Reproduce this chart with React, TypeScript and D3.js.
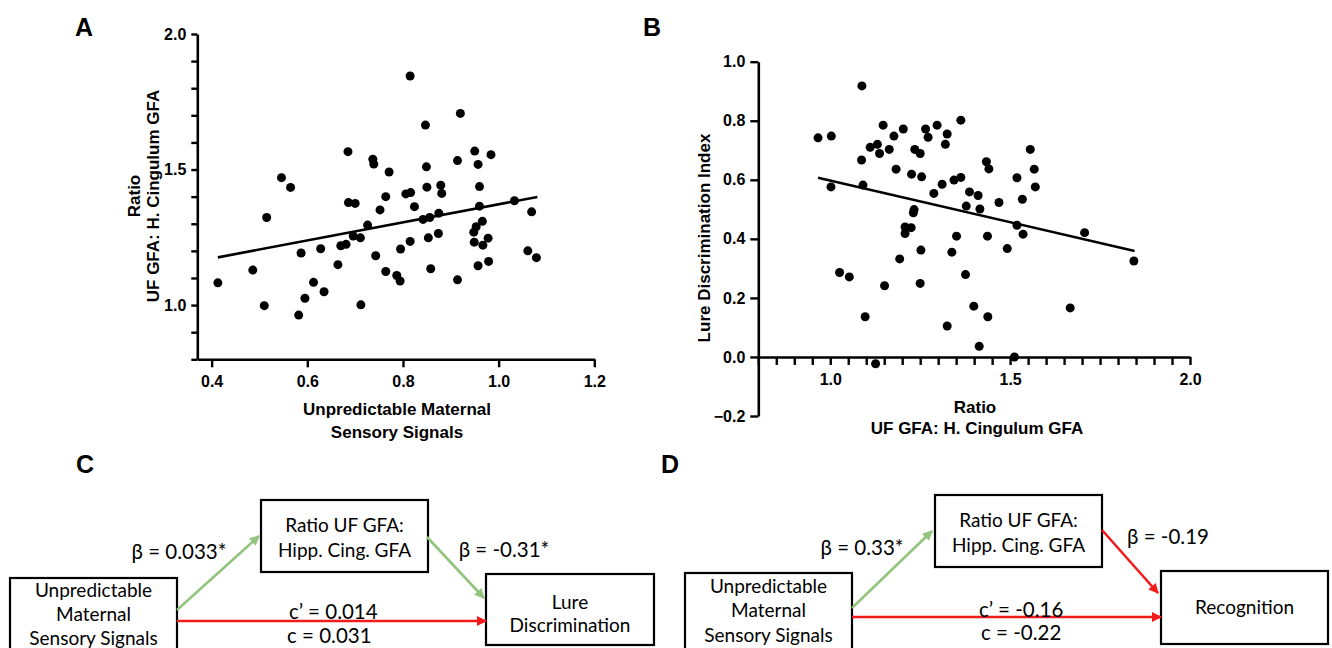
import React, { useEffect, useRef } from 'react';
import * as d3 from 'd3';

// Panel A: unpredictable maternal sensory signals (x) vs ratio UF GFA : H. cingulum GFA (y)
const panelAPoints: [number, number][] = [
  [0.413, 1.082], [0.486, 1.129], [0.51, 0.998], [0.515, 1.323], [0.546, 1.47],
  [0.565, 1.434], [0.582, 0.963], [0.587, 1.192], [0.595, 1.025], [0.613, 1.084],
  [0.628, 1.208], [0.635, 1.049], [0.664, 1.149], [0.67, 1.219], [0.681, 1.224],
  [0.685, 1.566], [0.686, 1.378], [0.7, 1.375], [0.696, 1.255], [0.711, 1.248],
  [0.712, 1.001], [0.726, 1.295], [0.737, 1.538], [0.739, 1.52], [0.743, 1.182],
  [0.752, 1.351], [0.764, 1.4], [0.764, 1.124], [0.771, 1.491], [0.787, 1.109],
  [0.794, 1.089], [0.795, 1.207], [0.806, 1.41], [0.816, 1.415], [0.815, 1.845],
  [0.815, 1.235], [0.824, 1.363], [0.842, 1.316], [0.847, 1.664], [0.849, 1.51],
  [0.85, 1.435], [0.853, 1.248], [0.856, 1.323], [0.858, 1.134], [0.875, 1.339],
  [0.874, 1.264], [0.879, 1.442], [0.881, 1.412], [0.914, 1.093], [0.914, 1.533],
  [0.92, 1.707], [0.95, 1.568], [0.957, 1.519], [0.96, 1.437], [0.96, 1.365],
  [0.966, 1.309], [0.953, 1.289], [0.948, 1.269], [0.949, 1.232], [0.957, 1.145],
  [0.967, 1.221], [0.978, 1.247], [0.979, 1.161], [0.984, 1.555], [1.033, 1.385],
  [1.061, 1.2], [1.069, 1.344], [1.079, 1.175],
];
const panelAFit: [number, number][] = [[0.413, 1.176], [1.081, 1.399]];
const panelAXTicks = [0.4, 0.6, 0.8, 1.0, 1.2];
const panelAYLabels = [1.0, 1.5, 2.0];

// Panel B: ratio (x) vs lure discrimination index (y)
const panelBPoints: [number, number][] = [
  [0.966, 0.742], [1.003, 0.748], [1.002, 0.576], [1.026, 0.286], [1.053, 0.271],
  [1.088, 0.918], [1.087, 0.667], [1.091, 0.582], [1.097, 0.136], [1.111, 0.71],
  [1.126, -0.023], [1.131, 0.72], [1.137, 0.689], [1.147, 0.785], [1.151, 0.241],
  [1.164, 0.703], [1.177, 0.748], [1.183, 0.636], [1.193, 0.332], [1.203, 0.772],
  [1.208, 0.418], [1.208, 0.44], [1.226, 0.619], [1.225, 0.438], [1.231, 0.488],
  [1.233, 0.499], [1.235, 0.703], [1.25, 0.689], [1.252, 0.362], [1.25, 0.249],
  [1.254, 0.61], [1.265, 0.772], [1.272, 0.744], [1.288, 0.554], [1.297, 0.785],
  [1.311, 0.585], [1.32, 0.72], [1.325, 0.755], [1.325, 0.105], [1.338, 0.355],
  [1.344, 0.599], [1.351, 0.409], [1.363, 0.802], [1.363, 0.608], [1.376, 0.279],
  [1.378, 0.511], [1.387, 0.559], [1.399, 0.172], [1.411, 0.547], [1.416, 0.501],
  [1.414, 0.036], [1.434, 0.661], [1.441, 0.637], [1.437, 0.409], [1.438, 0.136],
  [1.469, 0.523], [1.492, 0.367], [1.512, 0.0], [1.519, 0.607], [1.519, 0.446],
  [1.534, 0.534], [1.536, 0.416], [1.556, 0.703], [1.567, 0.636], [1.57, 0.576],
  [1.667, 0.166], [1.707, 0.421], [1.844, 0.325],
];
const panelBFit: [number, number][] = [[0.966, 0.607], [1.846, 0.359]];
const panelBXLabels = [1.0, 1.5, 2.0];
const panelBYTicks = [-0.2, 0, 0.2, 0.4, 0.6, 0.8, 1.0];

// Mediation diagrams (C and D)
const predictorLines = ['Unpredictable', 'Maternal', 'Sensory Signals'];
const mediatorLines = ['Ratio UF GFA:', 'Hipp. Cing. GFA'];
const outcomeCLines = ['Lure', 'Discrimination'];
const outcomeDLines = ['Recognition'];
const pathLabelsC = ['β = 0.033*', 'β = -0.31*', 'c’ = 0.014', 'c = 0.031'];
const pathLabelsD = ['β = 0.33*', 'β = -0.19', 'c’ = -0.16', 'c =  -0.22'];
const pathSignifC = [true, true, false];
const pathSignifD = [true, false, false];

const BOLD = '"Liberation Sans", Arial, Helvetica, sans-serif';
const DIAG = 'Lato, "Open Sans", sans-serif';
const GREEN = '#93c47d';
const RED = '#f21b1b';

export default function App() {
  const svgRef = useRef<SVGSVGElement>(null);

  useEffect(() => {
    if (!svgRef.current) return;
    const svg = d3.select(svgRef.current);
    svg.selectAll('*').remove();

    // arrow markers
    const defs = svg.append('defs');
    [['green', GREEN], ['red', RED]].forEach(([id, color]) => {
      defs.append('marker')
        .attr('id', `arrow-${id}`)
        .attr('viewBox', '0 0 10 10')
        .attr('refX', 9)
        .attr('refY', 5)
        .attr('markerWidth', 11)
        .attr('markerHeight', 10)
        .attr('markerUnits', 'userSpaceOnUse')
        .attr('orient', 'auto')
        .append('path')
        .attr('d', 'M0,0L10,5L0,10z')
        .attr('fill', color);
    });

    const styleAxis = (g: any, fontSize: number) => {
      g.select('.domain').attr('stroke', '#000').attr('stroke-width', 2.6);
      g.selectAll('.tick line').attr('stroke', '#000').attr('stroke-width', 2.4);
      g.selectAll('.tick text')
        .attr('fill', '#000')
        .style('font-family', BOLD)
        .style('font-weight', 'bold')
        .style('font-size', `${fontSize}px`);
    };

    const letter = (x: number, y: number, t: string) => {
      svg.append('text')
        .attr('x', x).attr('y', y)
        .attr('text-anchor', 'middle')
        .attr('dy', '0.35em')
        .style('font-family', BOLD)
        .style('font-weight', 'bold')
        .style('font-size', '25px')
        .text(t);
    };

    const title = (x: number, y: number, t: string, rotate = false) => {
      svg.append('text')
        .attr('transform', `translate(${x},${y})${rotate ? ' rotate(-90)' : ''}`)
        .attr('text-anchor', 'middle')
        .attr('dy', '0.35em')
        .style('font-family', BOLD)
        .style('font-weight', 'bold')
        .style('font-size', '17px')
        .text(t);
    };

    // ---------- Panel A ----------
    const xA = d3.scaleLinear().domain([0.37, 1.2]).range([197.3, 594.3]);
    const yA = d3.scaleLinear().domain([0.8, 2.0]).range([359.3, 34]);

    const yAxisA = d3.axisLeft(yA)
      .tickValues(d3.range(8, 21).map(v => v / 10))
      .tickSize(6)
      .tickSizeOuter(0)
      .tickPadding(5)
      .tickFormat((d: any) => (panelAYLabels.some(v => Math.abs(v - d) < 1e-6) ? d3.format('.1f')(d) : ''));
    styleAxis(svg.append('g').attr('transform', `translate(${xA(0.37)},0)`).call(yAxisA), 16);

    const xAxisA = d3.axisBottom(xA)
      .tickValues(panelAXTicks)
      .tickSize(8)
      .tickSizeOuter(0)
      .tickPadding(8)
      .tickFormat(d3.format('.1f') as any);
    styleAxis(svg.append('g').attr('transform', `translate(0,${yA(0.8)})`).call(xAxisA), 16);

    svg.append('g')
      .selectAll('circle')
      .data(panelAPoints)
      .enter()
      .append('circle')
      .attr('cx', d => xA(d[0]))
      .attr('cy', d => yA(d[1]))
      .attr('r', 4.5)
      .attr('fill', '#000');

    svg.append('path')
      .datum(panelAFit)
      .attr('d', d3.line<[number, number]>().x(d => xA(d[0])).y(d => yA(d[1])))
      .attr('stroke', '#000')
      .attr('stroke-width', 2.6)
      .attr('fill', 'none');

    title(397, 409, 'Unpredictable Maternal');
    title(397, 432, 'Sensory Signals');
    title(134, 196, 'Ratio', true);
    title(153, 196, 'UF GFA: H. Cingulum GFA', true);
    letter(84, 27, 'A');

    // ---------- Panel B ----------
    const xB = d3.scaleLinear().domain([0.8, 2.0]).range([758.3, 1190]);
    const yB = d3.scaleLinear().domain([-0.2, 1.0]).range([416, 61.7]);

    const yAxisB = d3.axisLeft(yB)
      .tickValues(panelBYTicks)
      .tickSize(8)
      .tickSizeOuter(0)
      .tickPadding(5)
      .tickFormat(d3.format('.1f') as any);
    styleAxis(svg.append('g').attr('transform', `translate(${xB(0.8)},0)`).call(yAxisB), 16);

    const xAxisB = d3.axisBottom(xB)
      .tickValues(d3.range(16, 41).map(v => v / 20))
      .tickSize(8)
      .tickSizeOuter(0)
      .tickPadding(9)
      .tickFormat((d: any) => (panelBXLabels.some(v => Math.abs(v - d) < 1e-6) ? d3.format('.1f')(d) : ''));
    styleAxis(svg.append('g').attr('transform', `translate(0,${yB(0)})`).call(xAxisB), 16);

    svg.append('g')
      .selectAll('circle')
      .data(panelBPoints)
      .enter()
      .append('circle')
      .attr('cx', d => xB(d[0]))
      .attr('cy', d => yB(d[1]))
      .attr('r', 4.5)
      .attr('fill', '#000');

    svg.append('path')
      .datum(panelBFit)
      .attr('d', d3.line<[number, number]>().x(d => xB(d[0])).y(d => yB(d[1])))
      .attr('stroke', '#000')
      .attr('stroke-width', 2.6)
      .attr('fill', 'none');

    title(975, 407, 'Ratio');
    title(977, 428, 'UF GFA: H. Cingulum GFA');
    title(704, 238, 'Lure Discrimination Index', true);
    letter(652, 27, 'B');

    // ---------- Mediation diagrams ----------
    type Box = { x: number; y: number; w: number; h: number; lines: string[]; ys: number[] };
    type Layout = {
      pred: Box; med: Box; out: Box;
      a: number[]; b: number[]; c: number[];
      labels: { x: number; y: number; anchor: string }[];
    };

    const drawDiagram = (lay: Layout, texts: string[], signif: boolean[]) => {
      const g = svg.append('g');
      [lay.pred, lay.med, lay.out].forEach(box => {
        g.append('rect')
          .attr('x', box.x).attr('y', box.y)
          .attr('width', box.w).attr('height', box.h)
          .attr('fill', '#fff')
          .attr('stroke', '#000')
          .attr('stroke-width', 2.2);
        box.lines.forEach((line, i) => {
          g.append('text')
            .attr('x', box.x + box.w / 2)
            .attr('y', box.ys[i])
            .attr('dy', '0.35em')
            .attr('text-anchor', 'middle')
            .style('font-family', DIAG)
            .style('font-size', '19px')
            .text(line);
        });
      });
      [lay.a, lay.b, lay.c].forEach((p, i) => {
        const col = signif[i] ? 'green' : 'red';
        g.append('line')
          .attr('x1', p[0]).attr('y1', p[1])
          .attr('x2', p[2]).attr('y2', p[3])
          .attr('stroke', signif[i] ? GREEN : RED)
          .attr('stroke-width', 2.6)
          .attr('marker-end', `url(#arrow-${col})`);
      });
      texts.forEach((t, i) => {
        const l = lay.labels[i];
        g.append('text')
          .attr('x', l.x).attr('y', l.y)
          .attr('dy', '0.35em')
          .attr('text-anchor', l.anchor)
          .style('font-family', DIAG)
          .style('font-size', '20.5px')
          .text(t);
      });
    };

    drawDiagram({
      pred: { x: 10, y: 578, w: 167, h: 85, lines: predictorLines, ys: [590, 614, 638] },
      med: { x: 261, y: 500, w: 167, h: 72, lines: mediatorLines, ys: [525, 550] },
      out: { x: 486, y: 574, w: 168, h: 71, lines: outcomeCLines, ys: [602, 625] },
      a: [177, 610, 259, 536],
      b: [427, 537, 484, 598],
      c: [177, 621, 486, 621],
      labels: [
        { x: 179, y: 552, anchor: 'middle' },
        { x: 504, y: 550, anchor: 'middle' },
        { x: 289, y: 612, anchor: 'start' },
        { x: 287, y: 636, anchor: 'start' },
      ],
    }, pathLabelsC, pathSignifC);
    letter(85, 464, 'C');

    drawDiagram({
      pred: { x: 685, y: 573, w: 167, h: 85, lines: predictorLines, ys: [586, 610, 635] },
      med: { x: 935, y: 495, w: 167, h: 72, lines: mediatorLines, ys: [520, 545] },
      out: { x: 1161, y: 571, w: 167, h: 73, lines: outcomeDLines, ys: [607] },
      a: [852, 608, 932, 531],
      b: [1102, 530, 1158, 593],
      c: [852, 617, 1161, 617],
      labels: [
        { x: 862, y: 548, anchor: 'middle' },
        { x: 1127, y: 537, anchor: 'start' },
        { x: 979, y: 610, anchor: 'start' },
        { x: 981, y: 633, anchor: 'start' },
      ],
    }, pathLabelsD, pathSignifD);
    letter(670, 464, 'D');
  }, []);

  return (
    <svg
      ref={svgRef}
      width={1332}
      height={648}
      style={{ position: 'absolute', left: 0, top: 0, background: '#fff' }}
    />
  );
}
